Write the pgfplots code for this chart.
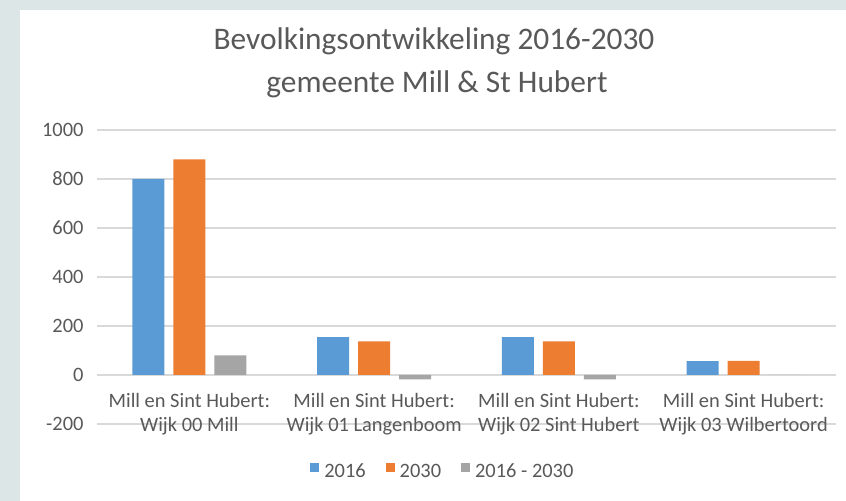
\documentclass[border=0pt]{standalone}
\usepackage{pgfplots}
\pgfplotsset{compat=1.18}
\usepackage{fontspec}
\setmainfont{Carlito}
\definecolor{cblue}{HTML}{5B9BD5}
\definecolor{corange}{HTML}{ED7D31}
\definecolor{cgray}{HTML}{A5A5A5}
\definecolor{ctext}{HTML}{595959}
\definecolor{cgrid}{HTML}{D9D9D9}
\definecolor{cframe}{RGB}{220,230,230}
\begin{document}
\begin{tikzpicture}[x=1bp,y=1bp]
\useasboundingbox (0,0) rectangle (846,501);
\fill[cframe] (0,0) rectangle (846,501);
\fill[white] (20,0) rectangle (846,491);
\begin{axis}[
  at={(97bp,77bp)}, anchor=south west,
  scale only axis, width=739bp, height=294bp,
  ybar=9bp, bar width=32bp,
  xmin=-0.5, xmax=3.5, ymin=-200, ymax=1000,
  ytick={-200,0,200,400,600,800,1000},
  xtick={0,1,2,3},
  xticklabels={{Mill en Sint Hubert:\\Wijk 00 Mill},{Mill en Sint Hubert:\\Wijk 01 Langenboom},{Mill en Sint Hubert:\\Wijk 02 Sint Hubert},{Mill en Sint Hubert:\\Wijk 03 Wilbertoord}},
  xticklabel style={align=center, font=\fontsize{20.5}{24}\selectfont, text=ctext, yshift=34bp},
  yticklabel style={font=\fontsize{20.5}{24}\selectfont, text=ctext, xshift=-10bp},
  /pgf/number format/assume math mode=true,
  /pgf/number format/1000 sep={},
  major tick length=0pt,
  axis line style={draw=none},
  ymajorgrids, grid style={cgrid, line width=1.2bp},
  legend columns=-1,
  legend style={draw=none, fill=none, at={(0.468,-0.16)}, anchor=center,
    font=\fontsize{20.5}{24}\selectfont, text=ctext,
    nodes={text height=14bp, text depth=1bp},
    /tikz/every odd column/.append style={column sep=3bp},
    /tikz/every even column/.append style={column sep=18bp}},
  legend image code/.code={\fill[#1] (0bp,-1bp) rectangle (9bp,8bp);},
]
\addplot[fill=cblue, draw=none] coordinates {(0,800) (1,155) (2,155) (3,57)};
\addplot[fill=corange, draw=none] coordinates {(0,880) (1,137) (2,137) (3,58)};
\addplot[fill=cgray, draw=none] coordinates {(0,80) (1,-18) (2,-18) (3,0)};
\legend{2016,2030,2016 - 2030}
\end{axis}
\node[anchor=base, text=ctext, font=\fontsize{31.5}{37}\selectfont] at (434,451) {Bevolkingsontwikkeling 2016-2030};
\node[anchor=base, text=ctext, font=\fontsize{31.5}{37}\selectfont] at (437,408) {gemeente Mill \& St Hubert};
\end{tikzpicture}
\end{document}
